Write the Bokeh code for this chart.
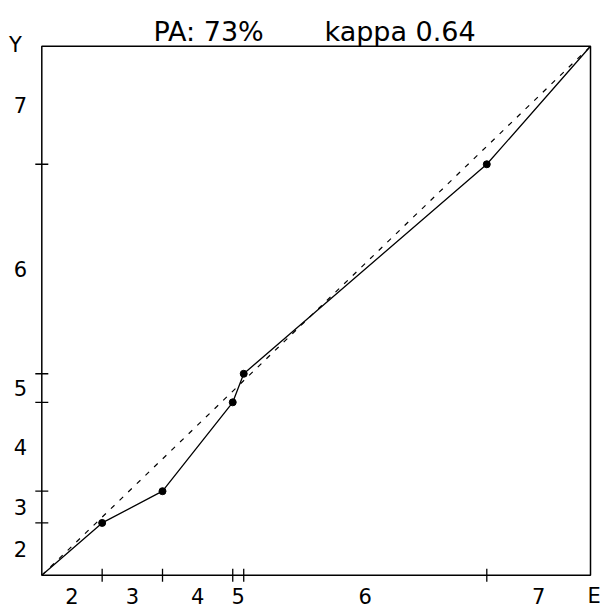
import numpy as np
from bokeh.plotting import figure
from bokeh.models import Range1d, ColumnDataSource
from bokeh.core.properties import value
from bokeh.embed import file_html
from bokeh.resources import INLINE

# ---- data (marginal shares in percent) ----
categories = ["2", "3", "4", "5", "6", "7"]
e_share = [11.0, 11.0, 12.8, 2.0, 44.3, 18.9]
y_share = [9.9, 6.0, 16.8, 5.4, 39.6, 22.3]
title_parts = ["PA: 73%", "kappa 0.64"]
x_name = "E"
y_name = "Y"

# ---- derived cumulative proportions ----
e_cum = np.cumsum(e_share) / np.sum(e_share)
y_cum = np.cumsum(y_share) / np.sum(y_share)
x_pts = np.concatenate([[0.0], e_cum])
y_pts = np.concatenate([[0.0], y_cum])
x_mid = (x_pts[:-1] + x_pts[1:]) / 2
y_mid = (y_pts[:-1] + y_pts[1:]) / 2

FONT = "DejaVu Sans"
W, H = 600, 610
# plot box in canvas pixels
BL, BR, BT, BB = 41.3, 590.0, 45.8, 574.8
sx = BR - BL
sy = BB - BT

p = figure(width=W, height=H, output_backend="svg", toolbar_location=None,
           x_range=Range1d(-BL / sx, (W - BL) / sx),
           y_range=Range1d((BB - H) / sy, BB / sy), title=None,
           min_border=0, min_border_left=0, min_border_right=0,
           min_border_top=0, min_border_bottom=0)
p.axis.visible = False
p.grid.visible = False
p.outline_line_color = None
p.background_fill_color = "white"
p.border_fill_color = "white"

# plot box
p.quad(left=[x_pts[0]], right=[x_pts[-1]], bottom=[y_pts[0]], top=[y_pts[-1]],
       fill_color=None, line_color="black", line_width=1.5)

# tick marks at category boundaries (crossing the axes)
tx = 6.5 / sx
ty = 6.5 / sy
xb = e_cum[:-1]
yb = y_cum[:-1]
p.segment(x0=xb, y0=[-ty] * len(xb), x1=xb, y1=[ty] * len(xb),
          line_color="black", line_width=1.3)
p.segment(x0=[-tx] * len(yb), y0=yb, x1=[tx] * len(yb), y1=yb,
          line_color="black", line_width=1.3)

# diagonal reference
p.line([x_pts[0], x_pts[-1]], [y_pts[0], y_pts[-1]], line_color="black",
       line_width=1.2, line_dash="5 7")
# agreement curve
p.line(x_pts, y_pts, line_color="black", line_width=1.3)
p.scatter(x_pts[1:-1], y_pts[1:-1], size=7, color="black")

# category labels
lab_y = -20.5 / sy
lab_x = -21.3 / sx
xsrc = ColumnDataSource(dict(x=x_mid, y=[lab_y] * len(categories), t=categories))
ysrc = ColumnDataSource(dict(x=[lab_x] * len(categories), y=y_mid, t=categories))
for src in (xsrc, ysrc):
    p.text(x="x", y="y", text="t", source=src, text_font=value(FONT),
           text_font_size=value("21px"), text_align="center",
           text_baseline="middle", text_color="black")

# axis names
p.text(x=[-26.3 / sx], y=[(BB - 44) / sy], text=[y_name], text_font=value(FONT),
       text_font_size=value("21px"), text_align="center",
       text_baseline="middle", text_color="black")
p.text(x=[1 - 3.0 / sx], y=[lab_y], text=[x_name], text_font=value(FONT),
       text_font_size=value("21px"), text_align="left",
       text_baseline="middle", text_color="black")

# title
p.text(x=[(153 - BL) / sx, (324 - BL) / sx], y=[(BB - 31) / sy] * 2,
       text=title_parts, text_font=value(FONT), text_font_size=value("27px"),
       text_align="left", text_baseline="alphabetic", text_color="black")

open("out.html", "w").write(file_html(p, INLINE))
